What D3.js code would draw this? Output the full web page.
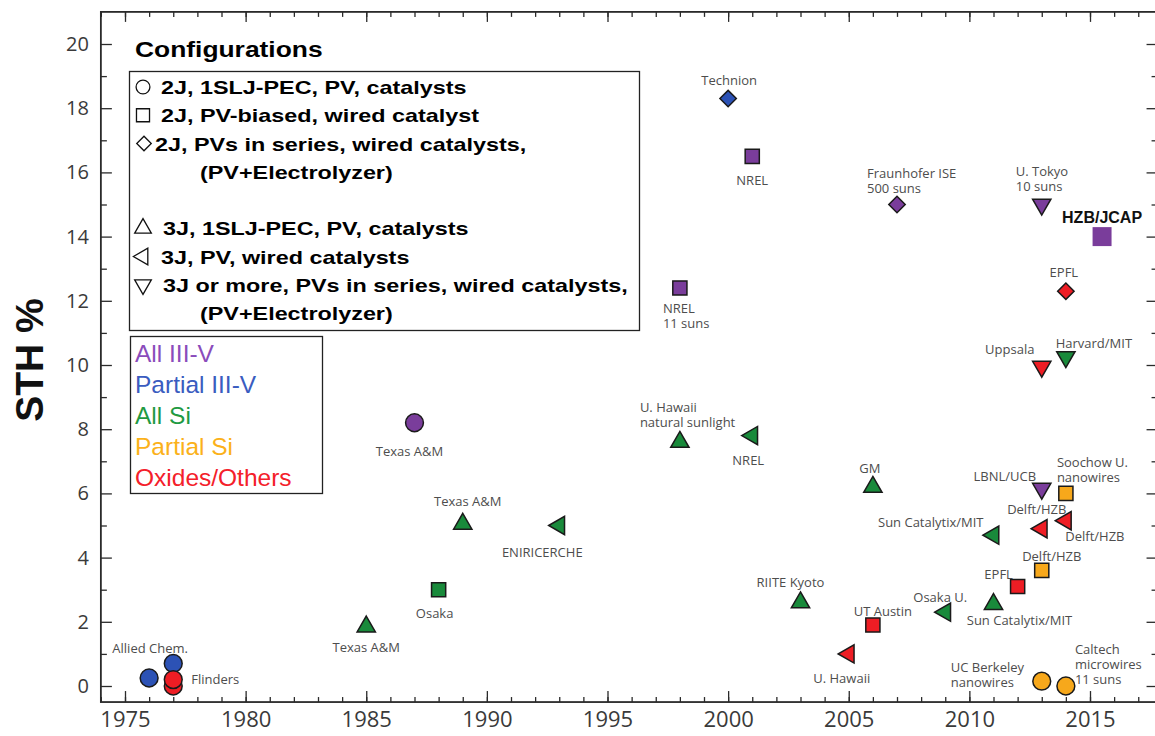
<!DOCTYPE html>
<html>
<head>
<meta charset="utf-8">
<script src="https://cdn.jsdelivr.net/npm/d3@7"></script>
<style>
  body { margin: 0; background: #fff; }
  svg { display: block; }
</style>
</head>
<body>
<script>
// --- data ---
var institutions = [
  "Allied Chem.", "", "", "Flinders",
  "Texas A&M", "Osaka", "Texas A&M", "Texas A&M", "ENIRICERCHE",
  "U. Hawaii\nnatural sunlight", "NREL", "Technion", "NREL", "NREL\n11 suns",
  "Fraunhofer ISE\n500 suns", "U. Tokyo\n10 suns", "HZB/JCAP", "EPFL",
  "Uppsala", "Harvard/MIT", "GM", "LBNL/UCB", "Soochow U.\nnanowires",
  "Delft/HZB", "Delft/HZB", "Sun Catalytix/MIT", "Delft/HZB", "EPFL",
  "Sun Catalytix/MIT", "Osaka U.", "RIITE Kyoto", "UT Austin", "U. Hawaii",
  "UC Berkeley\nnanowires", "Caltech\nmicrowires\n11 suns"
];
var years = [
  1976, 1977, 1977, 1977,
  1985, 1988, 1989, 1987, 1993,
  1998, 2001, 2000, 2001, 1998,
  2007, 2013, 2015.5, 2014,
  2013, 2014, 2006, 2013, 2014,
  2013, 2014, 2011, 2013, 2012,
  2011, 2009, 2003, 2006, 2005,
  2013, 2014
];
var sth = [
  0.25, 0.7, 0.0, 0.2,
  1.85, 3.0, 5.05, 8.2, 5.0,
  7.6, 7.8, 18.3, 16.5, 12.4,
  15.0, 15.0, 14.0, 12.3,
  9.95, 10.25, 6.2, 6.15, 6.0,
  4.9, 5.15, 4.7, 3.6, 3.1,
  2.55, 2.3, 2.6, 1.9, 1.0,
  0.15, 0.0
];
var configs = [
  "circle", "circle", "circle", "circle",
  "triUp", "square", "triUp", "circle", "triLeft",
  "triUp", "triLeft", "diamond", "square", "square",
  "diamond", "triDown", "square", "diamond",
  "triDown", "triDown", "triUp", "triDown", "square",
  "triLeft", "triLeft", "triLeft", "square", "square",
  "triUp", "triLeft", "triUp", "square", "triLeft",
  "circle", "circle"
];
var materials = [
  "Partial III-V", "Partial III-V", "Oxides/Others", "Oxides/Others",
  "All Si", "All Si", "All Si", "All III-V", "All Si",
  "All Si", "All Si", "Partial III-V", "All III-V", "All III-V",
  "All III-V", "All III-V", "All III-V", "Oxides/Others",
  "Oxides/Others", "All Si", "All Si", "All III-V", "Partial Si",
  "Oxides/Others", "Oxides/Others", "All Si", "Partial Si", "Oxides/Others",
  "All Si", "All Si", "All Si", "Oxides/Others", "Oxides/Others",
  "Partial Si", "Partial Si"
];

var materialNames = ["All III-V", "Partial III-V", "All Si", "Partial Si", "Oxides/Others"];
var configNames = [
  ["circle", "2J, 1SLJ-PEC, PV, catalysts"],
  ["square", "2J, PV-biased, wired catalyst"],
  ["diamond", "2J, PVs in series, wired catalysts,"],
  [null, "(PV+Electrolyzer)"],
  [null, ""],
  ["triUp", "3J, 1SLJ-PEC, PV, catalysts"],
  ["triLeft", "3J, PV, wired catalysts"],
  ["triDown", "3J or more, PVs in series, wired catalysts,"],
  [null, "(PV+Electrolyzer)"]
];
var xTicks = [1975, 1980, 1985, 1990, 1995, 2000, 2005, 2010, 2015];
var yTicks = [0, 2, 4, 6, 8, 10, 12, 14, 16, 18, 20];

// label placement next to each point: dx, dy, anchor
var labelPlace = [
  [1, -30, "middle"], [0, 0, "middle"], [0, 0, "middle"], [18, 0, "start"],
  [0, 21, "middle"], [-4, 24, "middle"], [5, -22, "middle"], [-5, 29, "middle"], [-17, 27, "middle"],
  [-40, -35, "start"], [-4, 25, "middle"], [1, -18, "middle"], [0, 24, "middle"], [-17, 20, "start"],
  [-30, -31, "start"], [-26, -33, "start"], [0, -19, "middle"], [-2, -19, "middle"],
  [-32, -17, "middle"], [28, -14, "middle"], [-3, -19, "middle"], [-37, -12, "middle"], [-9, -31, "start"],
  [-5, -19, "middle"], [29, 16, "middle"], [-10, -13, "end"], [10, -14, "middle"], [-19, -12, "middle"],
  [26, 16, "middle"], [-5, -15, "middle"], [-10, -20, "middle"], [10, -14, "middle"], [-7, 25, "middle"],
  [-91, -14, "start"], [9, -37, "start"]
];

var fill = {
  "All III-V": "#7a3d9b",
  "Partial III-V": "#2c52b5",
  "All Si": "#198a3b",
  "Partial Si": "#f7a81b",
  "Oxides/Others": "#ee1d24"
};
var legendFill = {
  "All III-V": "#8a4cbb",
  "Partial III-V": "#3a5cc0",
  "All Si": "#1f9a42",
  "Partial Si": "#fbb11a",
  "Oxides/Others": "#f4202a"
};

var width = 1155, height = 736;
var svg = d3.select("body").append("svg")
  .attr("width", width)
  .attr("height", height);

var x = d3.scaleLinear().domain([1975, 2015]).range([125, 1090]);
var y = d3.scaleLinear().domain([0, 20]).range([686, 44]);
var xL = x(1974), xR = x(2017.8), yT = y(21), yB = y(-0.5);

var tickColor = "#2a2a2a";

function styleAxis(g) {
  g.select(".domain").remove();
  g.selectAll(".tick line").attr("stroke", tickColor).attr("stroke-width", 1.3);
  g.selectAll(".tick text").attr("fill", "#3a3a3a").attr("font-family", "'Open Sans', sans-serif");
}

var yearsAll = d3.range(1974, 2018);
var minorY = d3.range(1, 21, 2);

// bottom
svg.append("g").attr("transform", "translate(0," + yB + ")")
  .call(d3.axisBottom(x).tickValues(yearsAll).tickSize(-5).tickFormat(""))
  .call(styleAxis);
svg.append("g").attr("transform", "translate(0," + yB + ")")
  .call(d3.axisBottom(x).tickValues(xTicks).tickSize(-11).tickPadding(9).tickFormat(d3.format("d")))
  .call(styleAxis)
  .selectAll("text").attr("font-size", 22);
// top
svg.append("g").attr("transform", "translate(0," + yT + ")")
  .call(d3.axisTop(x).tickValues(yearsAll).tickSize(-5).tickFormat(""))
  .call(styleAxis);
svg.append("g").attr("transform", "translate(0," + yT + ")")
  .call(d3.axisTop(x).tickValues(xTicks).tickSize(-10).tickFormat(""))
  .call(styleAxis);
// left
svg.append("g").attr("transform", "translate(" + xL + ",0)")
  .call(d3.axisLeft(y).tickValues(minorY).tickSize(-6).tickFormat(""))
  .call(styleAxis);
svg.append("g").attr("transform", "translate(" + xL + ",0)")
  .call(d3.axisLeft(y).tickValues(yTicks).tickSize(-11).tickPadding(12).tickFormat(d3.format("d")))
  .call(styleAxis)
  .selectAll("text").attr("font-size", 20);
// right
svg.append("g").attr("transform", "translate(" + xR + ",0)")
  .call(d3.axisRight(y).tickValues(minorY).tickSize(-6).tickFormat(""))
  .call(styleAxis);
svg.append("g").attr("transform", "translate(" + xR + ",0)")
  .call(d3.axisRight(y).tickValues(yTicks).tickSize(-11).tickFormat(""))
  .call(styleAxis);

// frame
svg.append("rect")
  .attr("x", xL).attr("y", yT)
  .attr("width", xR - xL).attr("height", yB - yT)
  .attr("fill", "none").attr("stroke", tickColor).attr("stroke-width", 1.8);

// y title
svg.append("text")
  .attr("transform", "translate(43,360) rotate(-90)")
  .attr("text-anchor", "middle")
  .attr("font-family", "'Liberation Sans', Arial, sans-serif")
  .attr("font-weight", "bold")
  .attr("font-size", 39)
  .attr("fill", "#111")
  .text("STH %");

// shapes
var rotation = { triUp: 0, triLeft: -90, triDown: 180, diamond: 45, square: 0, circle: 0 };
function symbolPath(shape, big) {
  var type = shape === "circle" ? d3.symbolCircle
    : (shape === "square" || shape === "diamond") ? d3.symbolSquare
    : d3.symbolTriangle;
  var size = shape === "circle" ? 250
    : shape === "square" ? (big ? 360 : 200)
    : shape === "diamond" ? 135
    : 145;
  return d3.symbol().type(type).size(size)();
}

// --- legends ---
var legendFont = "'Liberation Sans', Arial, Helvetica, sans-serif";
svg.append("text")
  .attr("transform", "translate(135,57) scale(1.2,1)")
  .attr("font-family", legendFont)
  .attr("font-weight", "bold")
  .attr("font-size", 22)
  .attr("fill", "#000")
  .text("Configurations");

svg.append("rect")
  .attr("x", 129.5).attr("y", 71.5).attr("width", 510).attr("height", 259)
  .attr("fill", "#fff").attr("stroke", "#222").attr("stroke-width", 1.3);

var cfg = svg.append("g").selectAll("g")
  .data(configNames)
  .enter().append("g")
  .attr("transform", function(d, i) { return "translate(0," + (87 + i * 28.25) + ")"; });

cfg.filter(function(d) { return d[0]; })
  .append("path")
  .attr("d", function(d) {
    var type = d[0] === "circle" ? d3.symbolCircle
      : (d[0] === "square" || d[0] === "diamond") ? d3.symbolSquare : d3.symbolTriangle;
    var size = d[0] === "circle" ? 150 : d[0] === "square" ? 170 : d[0] === "diamond" ? 105 : 120;
    return d3.symbol().type(type).size(size)();
  })
  .attr("transform", function(d) { return "translate(" + (d[0] === "diamond" ? 144 : 143) + ",0) rotate(" + rotation[d[0]] + ")"; })
  .attr("fill", "none")
  .attr("stroke", "#111")
  .attr("stroke-width", 1.3);

cfg.append("text")
  .attr("transform", function(d) {
    var tx = d[0] === null ? 200 : d[0] === "diamond" ? 155 : (d[0] === "circle" || d[0] === "square" || d[0] === "triLeft") ? 161 : 163;
    return "translate(" + tx + ",7) scale(1.23,1)";
  })
  .attr("font-family", legendFont)
  .attr("font-weight", "bold")
  .attr("font-size", 19)
  .attr("fill", "#000")
  .text(function(d) { return d[1]; });

svg.append("rect")
  .attr("x", 130.5).attr("y", 336.5).attr("width", 192).attr("height", 157)
  .attr("fill", "#fff").attr("stroke", "#222").attr("stroke-width", 1.3);

svg.append("g").selectAll("text")
  .data(materialNames)
  .enter().append("text")
  .attr("x", 135)
  .attr("y", function(d, i) { return 362 + i * 31; })
  .attr("font-family", legendFont)
  .attr("font-size", 24.5)
  .attr("fill", function(d) { return legendFill[d]; })
  .text(function(d) { return d; });

// --- points ---
var points = institutions.map(function(name, i) {
  return { name: name, year: years[i], sth: sth[i], shape: configs[i], material: materials[i], place: labelPlace[i] };
});

svg.append("g").selectAll("path")
  .data(points)
  .enter().append("path")
  .attr("d", function(d) { return symbolPath(d.shape, d.name === "HZB/JCAP"); })
  .attr("transform", function(d) {
    return "translate(" + x(d.year) + "," + y(d.sth) + ") rotate(" + rotation[d.shape] + ")";
  })
  .attr("fill", function(d) { return fill[d.material]; })
  .attr("stroke", function(d) { return d.name === "HZB/JCAP" ? "none" : "#1a1a1a"; })
  .attr("stroke-width", 1.5);

var labels = svg.append("g").selectAll("text")
  .data(points.filter(function(d) { return d.name; }))
  .enter().append("text")
  .attr("text-anchor", function(d) { return d.place[2]; })
  .attr("font-family", function(d) { return d.name === "HZB/JCAP" ? legendFont : "'Open Sans', sans-serif"; })
  .attr("font-weight", function(d) { return d.name === "HZB/JCAP" ? "bold" : "normal"; })
  .attr("font-size", function(d) { return d.name === "HZB/JCAP" ? 16 : 13; })
  .attr("fill", function(d) { return d.name === "HZB/JCAP" ? "#111" : "#4d4d4d"; });

labels.selectAll("tspan")
  .data(function(d) {
    return d.name.split("\n").map(function(line, k) {
      return { line: line, x: x(d.year) + d.place[0], y: y(d.sth) + d.place[1] + k * 15 };
    });
  })
  .enter().append("tspan")
  .attr("x", function(t) { return t.x; })
  .attr("y", function(t) { return t.y; })
  .attr("dy", "0.35em")
  .text(function(t) { return t.line; });
</script>
</body>
</html>
